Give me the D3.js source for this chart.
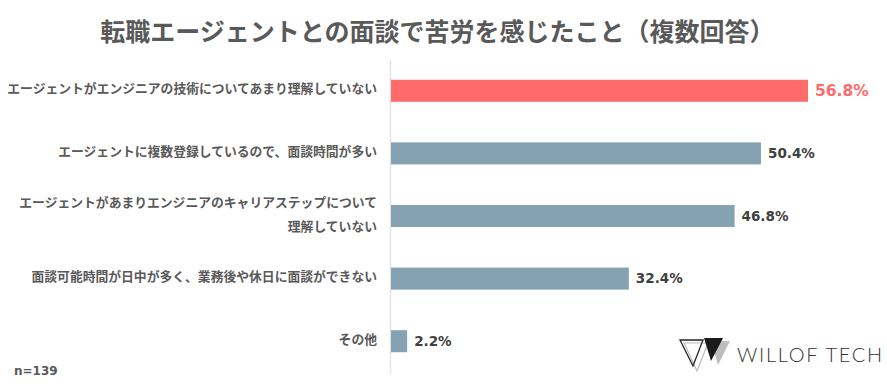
<!DOCTYPE html>
<html>
<head>
<meta charset="utf-8">
<script src="https://cdn.jsdelivr.net/npm/d3@7"></script>
<style>
  html, body { margin: 0; padding: 0; background: #fff; }
  svg { display: block; }
</style>
</head>
<body>
<svg id="chart" width="887" height="387"></svg>
<script>
const title = "転職エージェントとの面談で苦労を感じたこと（複数回答）";
const categories = [
  ["エージェントがエンジニアの技術についてあまり理解していない"],
  ["エージェントに複数登録しているので、面談時間が多い"],
  ["エージェントがあまりエンジニアのキャリアステップについて", "理解していない"],
  ["面談可能時間が日中が多く、業務後や休日に面談ができない"],
  ["その他"]
];
const values = [56.8, 50.4, 46.8, 32.4, 2.2];
const highlight = [true, false, false, false, false];
const sampleNote = "n=139";
const brand = "WILLOF TECH";

const svg = d3.select("#chart");
const fontJP = "'Noto Sans CJK JP', 'Noto Sans', sans-serif";
const textColor = "#595959";
const red = "#ff6b6b";
const blue = "#84a2b2";

// Title
svg.append("text")
  .attr("x", 437.5).attr("y", 41)
  .attr("text-anchor", "middle")
  .attr("font-family", fontJP)
  .attr("font-weight", 700)
  .attr("font-size", 25)
  .attr("fill", textColor)
  .text(title);

const x0 = 391;
const x = d3.scaleLinear().domain([0, 56.8]).range([x0, 808]);
const y = d3.scaleBand().domain(d3.range(values.length))
  .range([59.5, 372.5]).paddingInner(0.648).paddingOuter(0.324);

// Axis line
svg.append("line")
  .attr("x1", x0 - 0.5).attr("x2", x0 - 0.5)
  .attr("y1", 60).attr("y2", 374)
  .attr("stroke", "#e3e3e3").attr("stroke-width", 1.5);

// Bars
svg.selectAll("rect.bar").data(values).enter().append("rect")
  .attr("class", "bar")
  .attr("x", x0)
  .attr("y", (d, i) => y(i))
  .attr("width", d => x(d) - x0)
  .attr("height", y.bandwidth())
  .attr("fill", (d, i) => highlight[i] ? red : blue);

// Value labels
svg.selectAll("text.val").data(values).enter().append("text")
  .attr("class", "val")
  .attr("x", d => x(d) + 7)
  .attr("y", (d, i) => y(i) + y.bandwidth() / 2)
  .attr("dy", "0.36em")
  .attr("font-family", "'DejaVu Sans', Verdana, sans-serif")
  .attr("font-weight", 700)
  .attr("fill", (d, i) => highlight[i] ? red : "#404040")
  .style("font-size", (d, i) => highlight[i] ? "15.5px" : "13.5px")
  .text(d => d.toFixed(1) + "%");

// Category labels
categories.forEach((lines, i) => {
  const cy = y(i) + y.bandwidth() / 2;
  const lh = 24;
  const t = svg.append("text")
    .attr("text-anchor", "end")
    .attr("font-family", fontJP)
    .attr("font-weight", 700)
    .attr("font-size", 12.8)
    .attr("fill", textColor);
  lines.forEach((ln, j) => {
    t.append("tspan")
      .attr("x", 377)
      .attr("y", cy + (j - (lines.length - 1) / 2) * lh - 2)
      .attr("dy", "0.36em")
      .text(ln);
  });
});

// Sample size note
svg.append("text")
  .attr("x", 14).attr("y", 375)
  .attr("font-family", "'DejaVu Sans', sans-serif")
  .attr("font-weight", 700)
  .attr("font-size", 12)
  .attr("fill", textColor)
  .text(sampleNote);

// Logo
const logo = svg.append("g");
logo.append("path")
  .attr("d", "M684,343 L708,343 L697,371 Z")
  .attr("fill", "none").attr("stroke", "#bbb").attr("stroke-width", 1.2);
logo.append("path")
  .attr("d", "M680,340 L703,340 L693,366 Z")
  .attr("fill", "none").attr("stroke", "#222").attr("stroke-width", 1.3);
logo.append("path")
  .attr("d", "M711,341 L730,341 L718,365 Z")
  .attr("fill", "#bdbdbd");
logo.append("path")
  .attr("d", "M704,338 L723,338 L711,361 Z")
  .attr("fill", "#1a1a1a");
logo.append("text")
  .attr("x", 737).attr("y", 362)
  .attr("font-family", "Lato, 'Open Sans', sans-serif")
  .attr("font-weight", 300)
  .attr("font-size", 20)
  .attr("fill", "#333")
  .attr("textLength", 145)
  .attr("lengthAdjust", "spacing")
  .text(brand);
</script>
</body>
</html>
